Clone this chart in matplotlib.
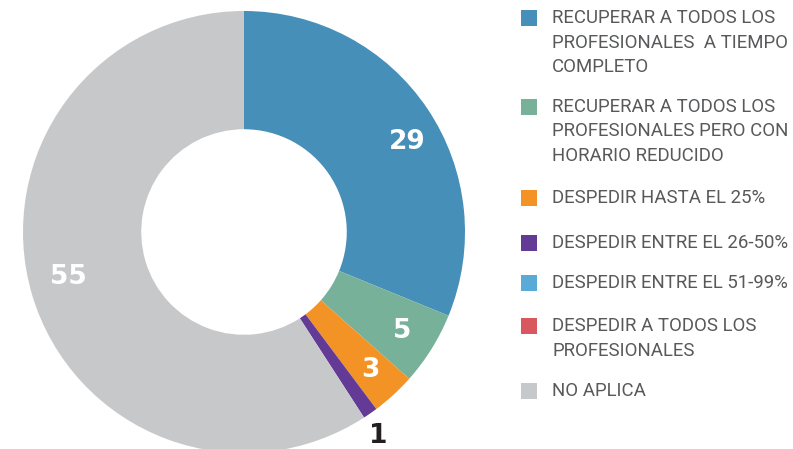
import numpy as np
import matplotlib.pyplot as plt
from matplotlib.patches import Rectangle

# Datos del gráfico
categorias = [
    "RECUPERAR A TODOS LOS\nPROFESIONALES  A TIEMPO\nCOMPLETO",
    "RECUPERAR A TODOS LOS\nPROFESIONALES PERO CON\nHORARIO REDUCIDO",
    "DESPEDIR HASTA EL 25%",
    "DESPEDIR ENTRE EL 26-50%",
    "DESPEDIR ENTRE EL 51-99%",
    "DESPEDIR A TODOS LOS\nPROFESIONALES",
    "NO APLICA",
]
valores = [29, 5, 3, 1, 0, 0, 55]
colores = ["#468fb8", "#78b19a", "#f39325", "#633a96", "#5aaad7", "#d9575f", "#c7c8ca"]

W, H = 793, 449
fig = plt.figure(figsize=(W / 100, H / 100), dpi=100)

# Donut (centro en px 244,232; radio 221)
cx, cy, r = 244, 232, 221
ax = fig.add_axes([(cx - r) / W, (H - cy - r) / H, 2 * r / W, 2 * r / H])
wedges, _ = ax.pie(valores, colors=colores, startangle=90, counterclock=False,
                   radius=1.0, wedgeprops=dict(width=0.535, linewidth=0))
ax.set_xlim(-1, 1)
ax.set_ylim(-1, 1)
ax.set_aspect("equal")
ax.axis("off")

# Etiquetas de valores: (ajuste de ángulo en grados, distancia al centro)
ajuste = {29: (-5, 0.845), 55: (-2, 0.82), 1: (-1.5, 1.105)}
for w, v in zip(wedges, valores):
    if v == 0:
        continue
    da, d = ajuste.get(v, (0, 0.845))
    ang = np.deg2rad((w.theta1 + w.theta2) / 2 + da)
    col = "#231f20" if v == 1 else "white"
    ax.text(d * np.cos(ang), d * np.sin(ang), str(v), ha="center", va="center",
            fontsize=19, fontweight="bold", color=col, clip_on=False)

# Leyenda
ys = [18, 107, 198, 243, 283, 326, 391]
for cat, col, y in zip(categorias, colores, ys):
    fig.add_artist(Rectangle((521 / W, 1 - (y + 8) / H), 16 / W, 16 / H,
                             transform=fig.transFigure, color=col, linewidth=0))
    for i, line in enumerate(cat.split("\n")):
        fig.text(552 / W, 1 - (y + i * 24.5) / H, line, ha="left", va="center",
                 fontsize=13.4, color="#58595b", family="Roboto")

fig.savefig("out.png", dpi=100)
